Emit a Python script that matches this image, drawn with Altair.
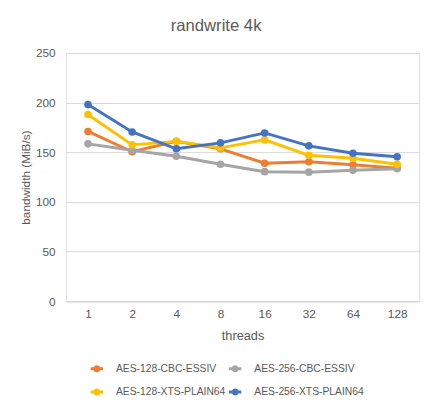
import altair as alt
import pandas as pd

threads = ["1", "2", "4", "8", "16", "32", "64", "128"]
series_names = ["AES-128-CBC-ESSIV", "AES-256-CBC-ESSIV", "AES-128-XTS-PLAIN64", "AES-256-XTS-PLAIN64"]
aes128_cbc = [171, 150.5, 161, 153.5, 139, 140.5, 137.5, 134]
aes256_cbc = [158.5, 152, 146, 138, 130.5, 130, 132, 133.5]
aes128_xts = [188, 157.5, 161, 154.5, 162.5, 147, 144, 138]
aes256_xts = [198, 170.5, 153.5, 159.5, 169.5, 156.5, 149, 145.5]
colors = ["#ED7D31", "#A5A5A5", "#FFC000", "#4472C4"]

rows = []
for name, vals in zip(series_names, [aes128_cbc, aes256_cbc, aes128_xts, aes256_xts]):
    for t, v in zip(threads, vals):
        rows.append({"threads": t, "bandwidth": v, "series": name})
df = pd.DataFrame(rows)

# legend fills column by column: order domain so rows read as in the reference
legend_order = [series_names[0], series_names[2], series_names[1], series_names[3]]
legend_colors = [colors[0], colors[2], colors[1], colors[3]]

FONT = "Liberation Sans"
GREY = "#595959"

x = alt.X("threads:N", sort=threads, title="threads",
          scale=alt.Scale(paddingInner=0, paddingOuter=0, align=0.5),
          axis=alt.Axis(labelAngle=0, domainColor="#D9D9D9", ticks=False, labelPadding=8,
                        labelColor=GREY, labelFontSize=12, titleColor=GREY, titleFontSize=13,
                        titleFontWeight="normal", titlePadding=10, labelFont=FONT, titleFont=FONT,
                        grid=False))
y = alt.Y("bandwidth:Q", title="bandwidth (MiB/s)",
          scale=alt.Scale(domain=[0, 250], nice=False),
          axis=alt.Axis(values=[0, 50, 100, 150, 200, 250], domain=False, ticks=False,
                        gridColor="#D9D9D9", labelPadding=11, labelColor=GREY, labelFontSize=12,
                        titleColor=GREY, titleFontSize=12, titleFontWeight="normal",
                        titlePadding=3, labelFont=FONT, titleFont=FONT))
color = alt.Color("series:N", sort=legend_order,
                  scale=alt.Scale(domain=legend_order, range=legend_colors),
                  legend=alt.Legend(title=None, orient="none", legendX=22, legendY=312,
                                    columns=2, columnPadding=-8, rowPadding=6,
                                    symbolType="M-0.78,0L0.78,0M-0.26,0A0.26,0.26 0 1,1 0.26,0A0.26,0.26 0 1,1 -0.26,0",
                                    symbolSize=256, symbolStrokeWidth=3,
                                    labelFont=FONT, labelFontSize=10.5, labelColor=GREY,
                                    labelOffset=10))

base = alt.Chart(df)

lines = base.mark_line(strokeWidth=3).encode(
    x=x, y=y, color=color, detail="series:N", order=alt.Order("threadidx:Q")
).transform_calculate(
    threadidx="indexof(%s, datum.threads)" % str(threads)
)
points = base.mark_circle(size=60, opacity=1).encode(x=x, y=y, color=color)

layers = []
for name in series_names:
    layers.append(lines.transform_filter(alt.datum.series == name))
for name in series_names:
    layers.append(points.transform_filter(alt.datum.series == name))

chart = alt.layer(*layers).properties(
    width=360, height=253,
    padding={"left": 59, "top": 42, "right": 13, "bottom": 110},
    autosize=alt.AutoSizeParams(type="none"),
    title=alt.TitleParams("randwrite 4k", fontSize=17, font=FONT, fontWeight="normal",
                          color=GREY, anchor="middle", dx=-27, offset=12),
).configure_view(stroke=None).configure(background="white")

chart.save("out.html", embed_options={"renderer": "svg", "actions": False})
